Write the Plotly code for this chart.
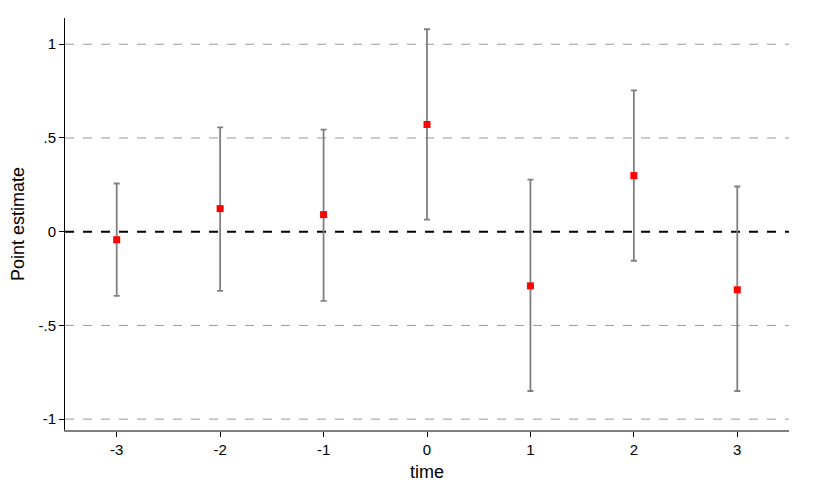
import plotly.graph_objects as go

# ----------------- data -----------------
time = [-3, -2, -1, 0, 1, 2, 3]
time_labels = ["-3", "-2", "-1", "0", "1", "2", "3"]
estimate = [-0.043, 0.123, 0.091, 0.572, -0.289, 0.299, -0.310]
ci_low = [-0.342, -0.316, -0.369, 0.064, -0.850, -0.155, -0.850]
ci_high = [0.257, 0.556, 0.545, 1.080, 0.278, 0.754, 0.241]

y_ticks = [-1, -0.5, 0, 0.5, 1]
y_ticktext = ["-1", "-.5", "0", ".5", "1"]

err_plus = [h - e for h, e in zip(ci_high, estimate)]
err_minus = [e - l for e, l in zip(estimate, ci_low)]

# ----------------- figure -----------------
fig = go.Figure()
fig.add_trace(go.Scatter(
    x=time, y=estimate, mode="markers",
    marker=dict(symbol="square", size=7, color="#ff0000"),
    error_y=dict(type="data", symmetric=False,
                 array=err_plus, arrayminus=err_minus,
                 color="#808080", thickness=1.8, width=3),
    showlegend=False,
))

# dashed grid lines (gray) and the zero reference line (black)
for v in y_ticks:
    if v == 0:
        line = dict(color="#000000", width=2, dash="dash")
    else:
        line = dict(color="#999999", width=1, dash="dash")
    fig.add_shape(type="line", xref="paper", x0=0, x1=1, y0=v, y1=v,
                  line=line, layer="below")

# page body has an 8px margin, so margins are shifted to compensate
fig.update_layout(
    width=840, height=504,
    margin=dict(l=57, r=59, t=10, b=82),
    paper_bgcolor="white", plot_bgcolor="white",
    font=dict(family="Liberation Sans, Arial", size=15, color="#000000"),
    xaxis=dict(
        range=[-3.5, 3.5], tickvals=time, ticktext=time_labels,
        ticks="outside", ticklen=5,
        tickcolor="#000000", showgrid=False, zeroline=False,
        showline=True, linecolor="#808080", linewidth=2,
        title=dict(text="time", standoff=8), automargin=False,
    ),
    yaxis=dict(
        range=[-1.058, 1.14], tickvals=y_ticks, ticktext=y_ticktext,
        ticks="outside", ticklen=5, tickcolor="#000000",
        showgrid=False, zeroline=False,
        showline=True, linecolor="#000000", linewidth=1,
        title=dict(text="Point estimate", standoff=14), automargin=False,
    ),
)

fig.write_html("out.html")
